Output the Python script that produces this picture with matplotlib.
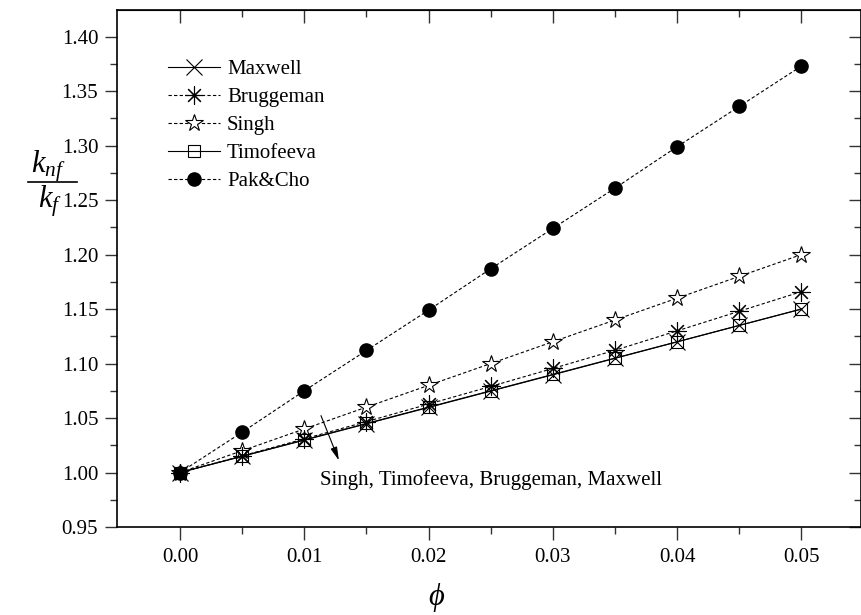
import matplotlib
matplotlib.use('Agg')
import matplotlib.pyplot as plt
from matplotlib.lines import Line2D
import numpy as np

plt.rcParams['font.family'] = ['Liberation Serif', 'DejaVu Serif']
plt.rcParams['mathtext.fontset'] = 'custom'
plt.rcParams['mathtext.rm'] = 'Liberation Serif'
plt.rcParams['mathtext.it'] = 'Liberation Serif:italic'

# volume fraction and thermal conductivity ratio for each model
phi = [0.0, 0.005, 0.01, 0.015, 0.02, 0.025, 0.03, 0.035, 0.04, 0.045, 0.05]
maxwell = [1.000, 1.0148, 1.0297, 1.0447, 1.0597, 1.0747, 1.0897, 1.1048, 1.1199, 1.1350, 1.1500]
bruggeman = [1.000, 1.0153, 1.0309, 1.0467, 1.0628, 1.0790, 1.0955, 1.1122, 1.1300, 1.1480, 1.1660]
singh = [1.000, 1.020, 1.040, 1.060, 1.080, 1.100, 1.120, 1.140, 1.160, 1.180, 1.200]
timofeeva = [1.000, 1.015, 1.030, 1.045, 1.060, 1.075, 1.090, 1.105, 1.120, 1.135, 1.150]
pak_cho = [1.000, 1.037, 1.075, 1.112, 1.149, 1.187, 1.224, 1.261, 1.299, 1.336, 1.373]

fig = plt.figure(figsize=(8.62, 6.15), dpi=100)
ax = fig.add_axes([117/862, 1 - 527/615, (861 - 117)/862, (527 - 10)/615])

dash = (0, (3, 2))
lw = 0.8
ax.plot(phi, maxwell, color='k', lw=lw, marker='x', ms=11, mew=0.8, label='Maxwell', zorder=5)
ax.plot(phi, bruggeman, color='k', lw=lw, ls=dash, marker=(8, 2, 0), ms=13, mew=0.8, label='Bruggeman', zorder=4)
ax.plot(phi, singh, color='k', lw=lw, ls=dash, marker='*', ms=13, mew=0.8, mfc='white', label='Singh', zorder=3)
ax.plot(phi, timofeeva, color='k', lw=lw, marker='s', ms=9, mew=0.8, mfc='none', label='Timofeeva', zorder=4)
ax.plot(phi, pak_cho, color='k', lw=lw, ls=dash, marker='o', ms=9.5, label='Pak&Cho', zorder=3)

ax.set_xlim(-0.00507, 0.0548)
ax.set_ylim(0.95, 1.4245)
ax.set_xticks(np.arange(0, 0.051, 0.01))
ax.set_xticks(np.arange(0.005, 0.051, 0.01), minor=True)
ax.set_yticks(np.arange(0.95, 1.401, 0.05))
ax.set_yticks(np.arange(0.975, 1.42, 0.05), minor=True)
ax.xaxis.set_major_formatter(matplotlib.ticker.FormatStrFormatter('%.2f'))
ax.yaxis.set_major_formatter(matplotlib.ticker.FormatStrFormatter('%.2f'))

ax.tick_params(which='both', labelsize=15, width=1, color='#333333')
ax.tick_params(which='major', length=9)
ax.tick_params(which='minor', length=5)
ax.tick_params(axis='x', which='both', direction='out', top=False)
ax.tick_params(axis='y', which='both', direction='out', right=False)
ax.tick_params(axis='x', which='major', pad=6)
ax.tick_params(axis='y', which='major', pad=4.5)

# inward ticks on the top and right frame lines
for side_ax, loc in ((ax.secondary_xaxis('top'), 'x'), (ax.secondary_yaxis('right'), 'y')):
    if loc == 'x':
        side_ax.set_xticks(np.arange(0, 0.051, 0.01))
        side_ax.set_xticks(np.arange(0.005, 0.051, 0.01), minor=True)
    else:
        side_ax.set_yticks(np.arange(0.95, 1.401, 0.05))
        side_ax.set_yticks(np.arange(0.975, 1.42, 0.05), minor=True)
    side_ax.tick_params(which='both', direction='in', labelleft=False, labelright=False,
                        labeltop=False, labelbottom=False, width=1, color='#333333')
    side_ax.tick_params(which='major', length=9)
    side_ax.tick_params(which='minor', length=5)

for sp in ax.spines.values():
    sp.set_linewidth(1.2)

ax.legend(loc='upper left', bbox_to_anchor=(0.068, 0.904), frameon=False, fontsize=15,
          handlelength=2.5, handletextpad=0.35, labelspacing=0.40, borderpad=0,
          borderaxespad=0)

ax.annotate('', xy=(0.01287, 1.0087), xytext=(0.01126, 1.0546),
            arrowprops=dict(arrowstyle='-|>,head_length=0.8,head_width=0.2',
                            color='k', lw=0.8))
ax.text(0.01126, 0.993, 'Singh, Timofeeva, Bruggeman, Maxwell', fontsize=15,
        ha='left', va='center')

fig.text(437/862, 1 - 598/615, r'$\phi$', fontsize=22, ha='center', va='center')

# y label as a stacked fraction with a wide bar
fig.text(48/862, 1 - 173/615, r'$k_{nf}$', fontsize=22, ha='center', va='baseline')
fig.text(50/862, 1 - 208/615, r'$k_f$', fontsize=22, ha='center', va='baseline')
fig.add_artist(Line2D([28/862, 77/862], [1 - 182/615, 1 - 182/615], color='k', lw=1.2))

fig.savefig('out.png', dpi=100)
